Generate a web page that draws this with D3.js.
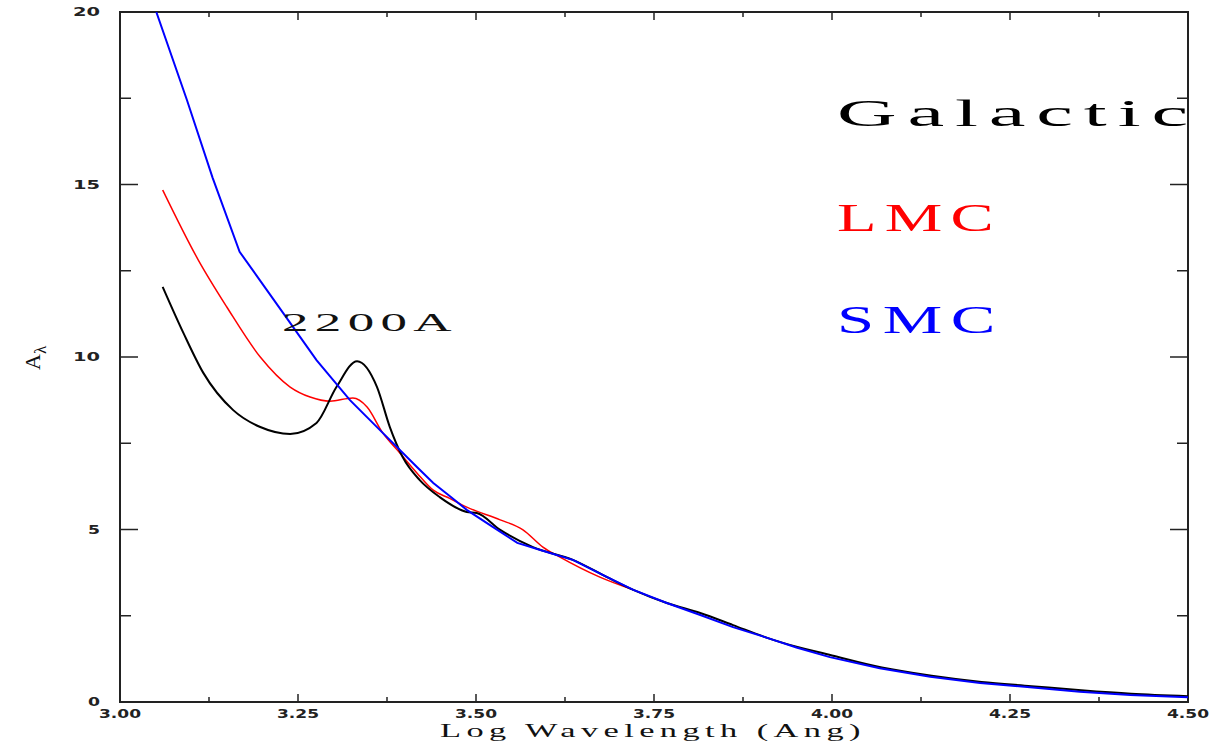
<!DOCTYPE html>
<html>
<head>
<meta charset="utf-8">
<script src="https://cdn.jsdelivr.net/npm/d3@7"></script>
<style>
  body { margin: 0; background: #ffffff; }
  svg { display: block; }
</style>
</head>
<body>
<svg id="chart"></svg>
<script>
//extinction curves, log wavelength vs A lambda
var galacticLogWave = [3.060, 3.089, 3.117, 3.159, 3.197, 3.239, 3.276, 3.304, 3.333, 3.361, 3.379, 3.397, 3.421, 3.449, 3.487, 3.501, 3.534, 3.580, 3.636, 3.684, 3.721, 3.768, 3.815, 3.861, 3.909, 3.930, 4.000, 4.070, 4.140, 4.210, 4.280, 4.350, 4.420, 4.500];
var galacticA = [12.03, 10.7, 9.54, 8.46, 7.97, 7.77, 8.09, 9.13, 9.88, 9.13, 7.97, 7.1, 6.43, 5.94, 5.51, 5.48, 4.99, 4.49, 4.12, 3.62, 3.25, 2.87, 2.58, 2.23, 1.86, 1.72, 1.35, 1.0, 0.76, 0.58, 0.46, 0.34, 0.24, 0.17];

var lmcLogWave = [3.060, 3.110, 3.150, 3.197, 3.239, 3.267, 3.295, 3.327, 3.347, 3.369, 3.393, 3.417, 3.440, 3.463, 3.487, 3.534, 3.566, 3.594, 3.618, 3.674, 3.721];
var lmcA = [14.84, 12.81, 11.45, 10.0, 9.13, 8.84, 8.72, 8.81, 8.55, 7.8, 7.22, 6.64, 6.14, 5.9, 5.65, 5.28, 4.99, 4.49, 4.2, 3.62, 3.25];

var smcLogWave = [3.051, 3.094, 3.130, 3.168, 3.229, 3.276, 3.323, 3.369, 3.417, 3.440, 3.463, 3.487, 3.524, 3.558, 3.604, 3.636, 3.680, 3.721, 3.768, 3.815, 3.861, 3.909, 3.950, 3.997, 4.067, 4.138, 4.208, 4.278, 4.348, 4.419, 4.500];
var smcA = [20.0, 17.45, 15.2, 13.05, 11.28, 9.91, 8.75, 7.8, 6.81, 6.35, 5.97, 5.57, 5.07, 4.61, 4.32, 4.12, 3.66, 3.25, 2.87, 2.52, 2.17, 1.86, 1.58, 1.30, 0.98, 0.73, 0.55, 0.43, 0.30, 0.20, 0.14];

var xTickValues = [3.00, 3.25, 3.50, 3.75, 4.00, 4.25, 4.50];
var yTickValues = [0, 5, 10, 15, 20];

var legendNames = ["Galactic", "LMC", "SMC"];
var legendColors = ["#000000", "#ff0000", "#0000ff"];

var width = 1218;
var height = 747;
var margin = {top: 12, right: 30, bottom: 45, left: 120};

var svg = d3.select("#chart")
  .attr("width", width)
  .attr("height", height);

//scales for the plot frame
var x = d3.scaleLinear()
  .domain([3.0, 4.5])
  .range([margin.left, width - margin.right]);

var y = d3.scaleLinear()
  .domain([0, 20])
  .range([height - margin.bottom, margin.top]);

//clip so the smc curve does not go past the top of the frame
svg.append("clipPath")
  .attr("id", "plot-clip")
  .append("rect")
  .attr("x", x(3.0))
  .attr("y", y(20))
  .attr("width", x(4.5) - x(3.0))
  .attr("height", y(0) - y(20));

//tick marks on all four sides, pointing inward
var xMinor = d3.range(3.0, 4.5001, 0.125);
var yMinor = d3.range(0, 20.001, 2.5);

function isMajor(v, step) {
  return Math.abs(v / step - Math.round(v / step)) < 1e-6;
}

var tickGroup = svg.append("g").attr("stroke", "#222").attr("stroke-width", 1.5);

xMinor.forEach(function (v) {
  var len = isMajor(v, 0.25) ? 8 : 5;
  tickGroup.append("line")
    .attr("x1", x(v)).attr("x2", x(v))
    .attr("y1", y(0)).attr("y2", y(0) - len);
  tickGroup.append("line")
    .attr("x1", x(v)).attr("x2", x(v))
    .attr("y1", y(20)).attr("y2", y(20) + len);
});

yMinor.forEach(function (v) {
  var len = isMajor(v, 5) ? 18 : 11;
  tickGroup.append("line")
    .attr("x1", x(3.0)).attr("x2", x(3.0) + len)
    .attr("y1", y(v)).attr("y2", y(v));
  tickGroup.append("line")
    .attr("x1", x(4.5)).attr("x2", x(4.5) - len)
    .attr("y1", y(v)).attr("y2", y(v));
});

//tick labels, stretched wide like the plotter font
svg.append("g")
  .selectAll("text")
  .data(xTickValues)
  .enter()
  .append("text")
  .attr("x", function (d) { return x(d) - 21; })
  .attr("y", y(0) + 16)
  .attr("font-family", "DejaVu Sans")
  .attr("font-weight", "bold")
  .attr("font-size", 12)
  .attr("fill", "#222")
  .attr("textLength", 42)
  .attr("lengthAdjust", "spacingAndGlyphs")
  .text(function (d) { return d.toFixed(2); });

svg.append("g")
  .selectAll("text")
  .data(yTickValues)
  .enter()
  .append("text")
  .attr("x", function (d) { return d >= 10 ? 73 : 88; })
  .attr("y", function (d) { return y(d) + 4; })
  .attr("font-family", "DejaVu Sans")
  .attr("font-weight", "bold")
  .attr("font-size", 12)
  .attr("fill", "#222")
  .attr("textLength", function (d) { return d >= 10 ? 27 : 12; })
  .attr("lengthAdjust", "spacingAndGlyphs")
  .text(function (d) { return d; });

//frame
svg.append("rect")
  .attr("x", x(3.0))
  .attr("y", y(20))
  .attr("width", x(4.5) - x(3.0))
  .attr("height", y(0) - y(20))
  .attr("fill", "none")
  .attr("stroke", "#222")
  .attr("stroke-width", 2);

//axis titles
svg.append("text")
  .attr("x", 440)
  .attr("y", 737)
  .attr("font-family", "Liberation Serif")
  .attr("font-size", 19)
  .attr("letter-spacing", 3)
  .attr("fill", "#111")
  .attr("textLength", 426)
  .attr("lengthAdjust", "spacingAndGlyphs")
  .text("Log Wavelength (Ang)");

var yTitle = svg.append("text")
  .attr("transform", "translate(40,370) rotate(-90)")
  .attr("font-family", "Liberation Serif")
  .attr("font-size", 22)
  .attr("fill", "#111");
yTitle.append("tspan").text("A");
yTitle.append("tspan")
  .attr("font-size", 17)
  .attr("dy", 6)
  .text("λ");

//curves, smc drawn with straight segments
var smoothLine = d3.line()
  .x(function (d) { return x(d[0]); })
  .y(function (d) { return y(d[1]); })
  .curve(d3.curveMonotoneX);

var straightLine = d3.line()
  .x(function (d) { return x(d[0]); })
  .y(function (d) { return y(d[1]); });

var curves = [
  {wave: lmcLogWave, a: lmcA, color: "#ff0000", width: 1.5, gen: smoothLine},
  {wave: galacticLogWave, a: galacticA, color: "#000000", width: 2, gen: smoothLine},
  {wave: smcLogWave, a: smcA, color: "#0000ff", width: 2, gen: straightLine}
];

var plot = svg.append("g").attr("clip-path", "url(#plot-clip)");

curves.forEach(function (c) {
  var pts = c.wave.map(function (w, i) { return [w, c.a[i]]; });
  plot.append("path")
    .datum(pts)
    .attr("fill", "none")
    .attr("stroke", c.color)
    .attr("stroke-width", c.width)
    .attr("d", c.gen);
});

//bump annotation
svg.append("text")
  .attr("x", 282)
  .attr("y", 331)
  .attr("font-family", "Liberation Serif")
  .attr("font-size", 25)
  .attr("letter-spacing", 3)
  .attr("fill", "#111")
  .attr("textLength", 176)
  .attr("lengthAdjust", "spacingAndGlyphs")
  .text("2200A");

//legend as coloured words on the right
var legendY = [126, 231, 333];
var legendWidth = [362, 165, 167];
var legendSize = [38, 39, 39];

legendNames.forEach(function (name, i) {
  svg.append("text")
    .attr("x", 837)
    .attr("y", legendY[i])
    .attr("font-family", "Liberation Serif")
    .attr("font-size", legendSize[i])
    .attr("letter-spacing", 5)
    .attr("fill", legendColors[i])
    .attr("textLength", legendWidth[i])
    .attr("lengthAdjust", "spacingAndGlyphs")
    .text(name);
});
</script>
</body>
</html>
